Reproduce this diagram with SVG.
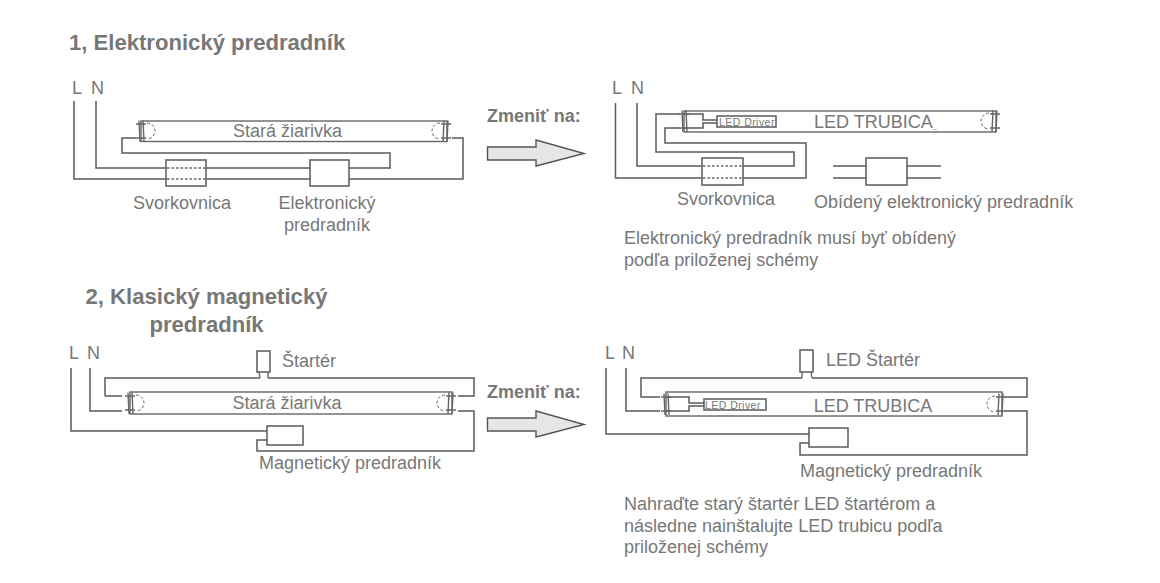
<svg xmlns="http://www.w3.org/2000/svg" xmlns:xlink="http://www.w3.org/1999/xlink" width="1160" height="583" viewBox="0 0 1160 583">
<style>
text{font-family:"Liberation Sans",Arial,sans-serif;fill:#777;font-size:18px}
.h{font-weight:bold;font-size:22.100px}
.z{font-weight:bold;font-size:18px}
.d{font-size:10.500px;letter-spacing:.45px}
.w,.b,.p{fill:none;stroke:#5a5a5a;stroke-width:1.5}
.b{fill:#fff}
.t{fill:none;stroke:#666;stroke-width:1.4}
.dot{fill:none;stroke:#666;stroke-width:1.5;stroke-dasharray:2.5 2}
.arc{fill:none;stroke:#666;stroke-width:1;stroke-dasharray:3 2}
.a{fill:#e6e6e6;stroke:#555;stroke-width:1.4}
</style>
<defs>
<g id="capL"><path class="t" d="M-2-10.500L-1 11M2-10.500L3 11M-5-7H5M-5 7H5"/></g>
<g id="capR"><path class="t" d="M2-10.500L1 11M-2-10.500L-3 11M-5-7H5M-5 7H5"/><path class="arc" d="M-6-8A8 8 0 0 0-6 8"/></g>
<path id="arcL" class="arc" d="M6-8A8 8 0 0 1 6 8"/>
<path id="arrow" class="a" d="M487.500 147H536V140L584 153.500L536 166V160H487.500Z"/>
</defs>
<g id="connectors">
<path class="w" d="M74 101V179H166M96 101V168H166M206 168H310M206 179H310M349 168H390V153H122V138H136M349 179H463V138H452"/>
<path class="w" d="M615.500 103V178H702M743 178H806V143H665V128H680M637 103V166H702M743 166H794V152H656V114H680"/>
<path class="w" d="M833 166H866M907 166H941M833 178H866M907 178H941"/>
<path class="w" d="M71 368V431H267M267 440H257V451H474V411H458M90 368V411H122M105 396H122M105 396V378H260M268 378H474V396H458"/>
<path class="w" d="M606 368V434H809M809 443H800V455H1027V411H1005M626 368V411H660M660 397H641V378H802M812 378H1027V397H1005"/>
<path class="w" d="M684 114H703V120H717M684 128H703V123H717M665 397H689V403H704M665 411H689V406H704"/>
</g>
<g id="node-tube-old-1"><rect class="t" x="141" y="121" width="306" height="20.500"/><use xlink:href="#capL" href="#capL" x="141" y="131"/><use xlink:href="#arcL" href="#arcL" x="141" y="131"/><use xlink:href="#capR" href="#capR" x="446" y="131"/><text x="287.500" y="137" text-anchor="middle">Stará žiarivka</text></g>
<g id="node-terminal-1"><rect class="b" x="166" y="160" width="40" height="26"/><path class="dot" d="M167 168H205M167 179H205"/></g>
<g id="node-ballast-1"><rect class="b" x="310" y="160" width="39" height="26"/></g>
<g id="node-tube-led-1"><rect class="t" x="684" y="111" width="312" height="21"/><use xlink:href="#capL" href="#capL" x="684" y="121"/><use xlink:href="#capR" href="#capR" x="995" y="121"/><text x="814" y="128">LED TRUBICA<tspan font-size="7px">_</tspan></text></g>
<g id="node-driver-1"><rect class="b" x="717" y="116" width="59" height="11"/><text class="d" x="719" y="125.500">LED Driver</text></g>
<g id="node-terminal-2"><rect class="b" x="702" y="158" width="41" height="27"/><path class="dot" d="M703 166H742M703 178H742"/></g>
<g id="node-bypass"><rect class="b" x="866" y="158" width="41" height="27"/></g>
<g id="node-starter-1"><rect class="b" x="257" y="351" width="13" height="21"/><path class="t" d="M259 372L260 378M268 372L268 378"/></g>
<g id="node-tube-old-2"><rect class="t" x="130" y="392" width="322" height="22"/><use xlink:href="#capL" href="#capL" x="130" y="403"/><use xlink:href="#arcL" href="#arcL" x="130" y="403"/><use xlink:href="#capR" href="#capR" x="451" y="403"/><text x="287" y="409" text-anchor="middle">Stará žiarivka</text></g>
<g id="node-ballast-2"><rect class="b" x="267" y="426" width="36" height="19"/></g>
<g id="node-starter-2"><rect class="b" x="800" y="350" width="13" height="22"/><path class="t" d="M802 372L802 378M811 372L812 378"/></g>
<g id="node-tube-led-2"><rect class="t" x="666" y="392" width="336" height="24"/><use xlink:href="#capL" href="#capL" x="666" y="404"/><use xlink:href="#capR" href="#capR" x="1001" y="404"/><text x="873" y="412" text-anchor="middle">LED TRUBICA</text></g>
<g id="node-driver-2"><rect class="b" x="704" y="399" width="62" height="11"/><text class="d" x="705" y="408.500">LED Driver</text></g>
<g id="node-ballast-3"><rect class="b" x="809" y="428" width="39" height="19"/></g>
<use xlink:href="#arrow" href="#arrow"/>
<use xlink:href="#arrow" href="#arrow" y="271"/>
<text class="h" x="69" y="50">1, Elektronický predradník</text>
<text x="72" y="94">L</text><text x="91" y="94">N</text>
<text x="612" y="94">L</text><text x="631" y="94">N</text>
<text x="69" y="359">L</text><text x="87" y="359">N</text>
<text x="605" y="359">L</text><text x="622" y="359">N</text>
<text x="182" y="209" text-anchor="middle">Svorkovnica</text>
<text x="327" y="209" text-anchor="middle">Elektronický</text>
<text x="327" y="231" text-anchor="middle">predradník</text>
<text class="z" x="487" y="122">Zmeniť na:</text>
<text x="726" y="205" text-anchor="middle">Svorkovnica</text>
<text x="814" y="208">Obídený elektronický predradník</text>
<text x="624" y="244">Elektronický predradník musí byť obídený</text>
<text x="624" y="266">podľa priloženej schémy</text>
<text class="h"><tspan x="206.500" y="304" text-anchor="middle">2, Klasický magnetický</tspan><tspan x="206.500" y="332" text-anchor="middle">predradník</tspan></text>
<text x="282" y="367">Štartér</text>
<text x="259" y="469">Magnetický predradník</text>
<text class="z" x="487" y="398">Zmeniť na:</text>
<text x="826" y="366">LED Štartér</text>
<text x="800" y="477">Magnetický predradník</text>
<text x="624" y="510">Nahraďte starý štartér LED štartérom a</text>
<text x="624" y="532">následne nainštalujte LED trubicu podľa</text>
<text x="624" y="553">priloženej schémy</text>
</svg>
